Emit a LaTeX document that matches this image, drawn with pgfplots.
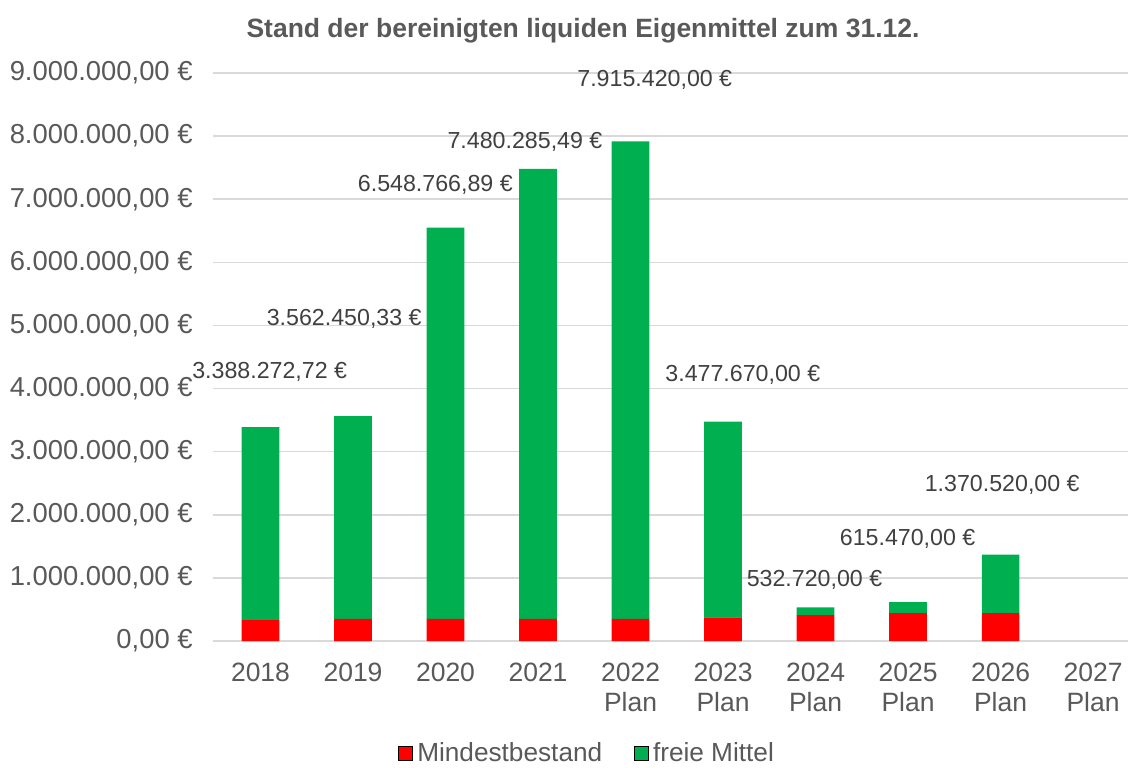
\documentclass[border=0pt]{standalone}
\usepackage{pgfplots}
\pgfplotsset{compat=1.18}
\usepackage{fontspec}
\setmainfont{Liberation Sans}
\definecolor{txt}{HTML}{595959}
\definecolor{lbl}{HTML}{404040}
\definecolor{gridc}{HTML}{D9D9D9}
\definecolor{myred}{HTML}{FF0000}
\definecolor{mygreen}{HTML}{00B050}
\tikzset{vlab/.style={anchor=base, font=\fontsize{11.6}{14}\selectfont, text=lbl, inner sep=0pt}}
\begin{document}
\begin{tikzpicture}
\useasboundingbox (0,0) rectangle (564pt,383.5pt);
\node[font=\bfseries\fontsize{13.25}{15}\selectfont, text=txt] at (291.5pt,368pt) {Stand der bereinigten liquiden Eigenmittel zum 31.12.};
\begin{axis}[
  at={(106.5pt,63pt)}, anchor=south west,
  scale only axis, width=457.5pt, height=284pt,
  ybar stacked, bar width=18.8pt,
  xmin=-0.5135, xmax=9.378, ymin=0, ymax=9000000,
  scaled y ticks=false,
  axis lines*=left,
  y axis line style={draw=none},
  x axis line style={gridc, line width=1pt},
  major tick length=0pt,
  ymajorgrids, grid style={gridc, line width=0.75pt},
  xtick={0,1,2,3,4,5,6,7,8,9},
  xticklabels={2018,2019,2020,2021,{2022\\Plan},{2023\\Plan},{2024\\Plan},{2025\\Plan},{2026\\Plan},{2027\\Plan}},
  xticklabel style={align=center, font=\fontsize{13.25}{15.15}\selectfont, text=txt, anchor=north, inner sep=0pt, yshift=-10.85pt},
  ytick={0,1000000,2000000,3000000,4000000,5000000,6000000,7000000,8000000,9000000},
  yticklabels={{0,00 €},{1.000.000,00 €},{2.000.000,00 €},{3.000.000,00 €},{4.000.000,00 €},{5.000.000,00 €},{6.000.000,00 €},{7.000.000,00 €},{8.000.000,00 €},{9.000.000,00 €}},
  yticklabel style={anchor=east, inner sep=0pt, xshift=-10pt, font=\fontsize{13.7}{15.5}\selectfont, text=txt},
  clip=false,
  legend image code/.code={\draw[#1] (0pt,-3.5pt) rectangle (7pt,3.5pt);},
  legend style={draw=none, at={(0.41,-0.198)}, anchor=center, legend columns=2,
    font=\fontsize{13.1}{15}\selectfont, text=txt,
    /tikz/every even column/.append style={column sep=14pt}},
]
\addplot[fill=myred, draw=none] coordinates {(0,330000) (1,350000) (2,350000) (3,350000) (4,350000) (5,375000) (6,410000) (7,440000) (8,440000) (9,0)};
\addplot[fill=mygreen, draw=none] coordinates {(0,3058272.72) (1,3212450.33) (2,6198766.89) (3,7130285.49) (4,7565420) (5,3102670) (6,122720) (7,175470) (8,930520) (9,0)};
\legend{Mindestbestand, freie Mittel}
\node[vlab] at (axis cs:0.0995,4162400) {3.388.272,72 €};
\node[vlab] at (axis cs:0.905,4996000) {3.562.450,33 €};
\node[vlab] at (axis cs:1.890,7119200) {6.548.766,89 €};
\node[vlab] at (axis cs:2.859,7806900) {7.480.285,49 €};
\node[vlab] at (axis cs:4.262,8794000) {7.915.420,00 €};
\node[vlab] at (axis cs:5.214,4119700) {3.477.670,00 €};
\node[vlab] at (axis cs:5.989,860400) {532.720,00 €};
\node[vlab] at (axis cs:6.995,1521100) {615.470,00 €};
\node[vlab] at (axis cs:8.018,2376800) {1.370.520,00 €};
\end{axis}
\end{tikzpicture}
\end{document}
